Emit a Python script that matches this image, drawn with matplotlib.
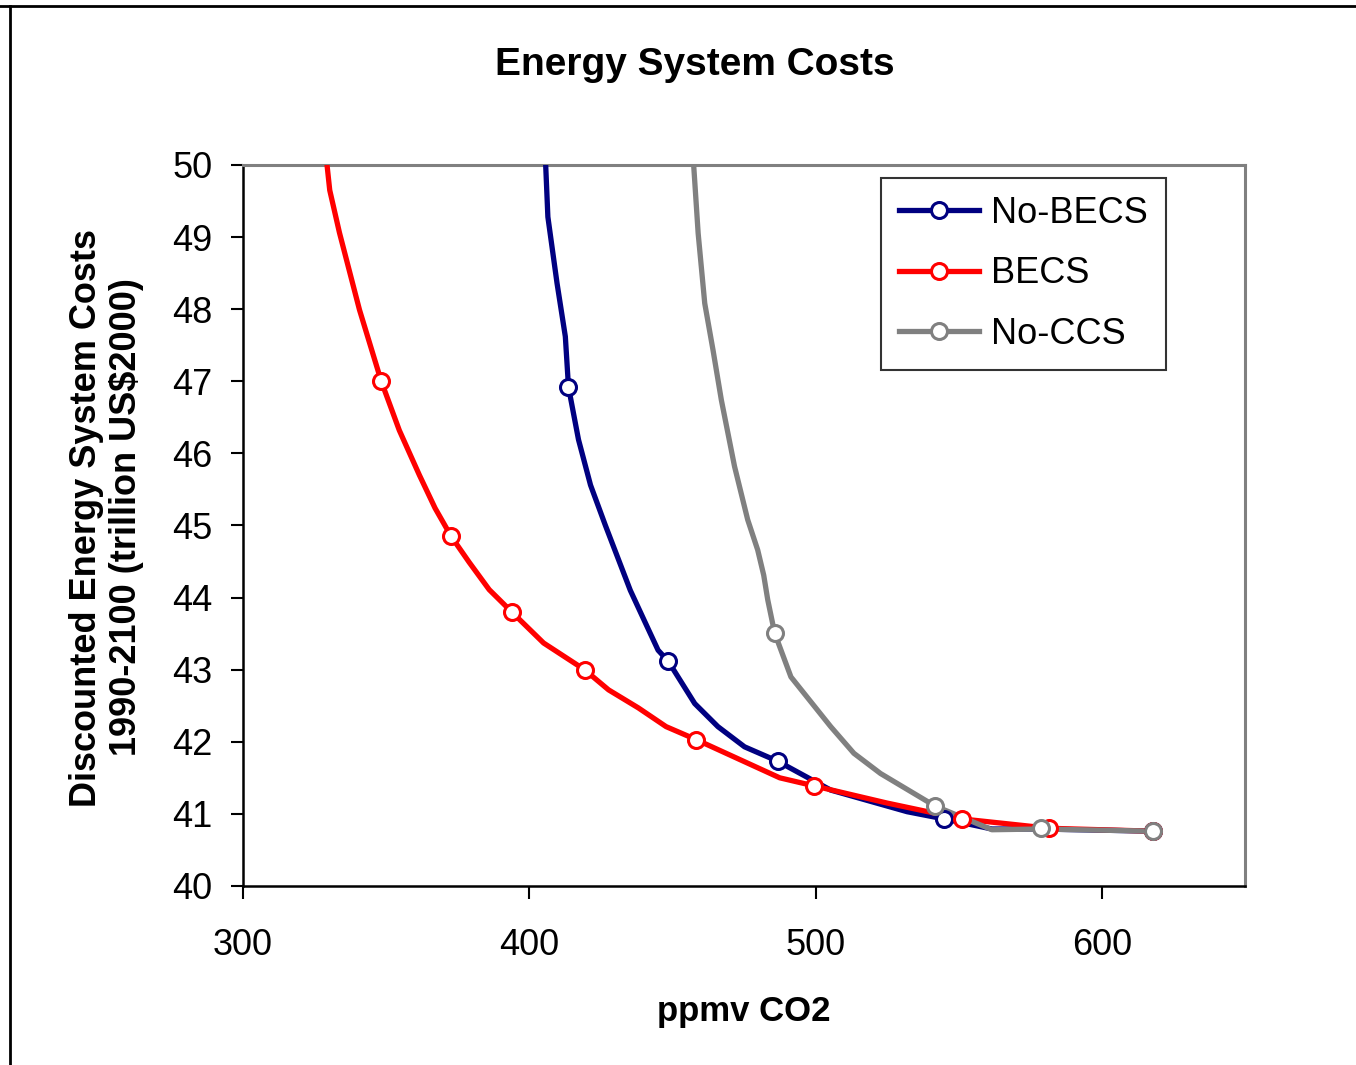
import matplotlib
matplotlib.use("Agg")
import matplotlib.pyplot as plt
from matplotlib.lines import Line2D

plt.rcParams['font.family'] = ['Liberation Sans', 'DejaVu Sans']

# ---- data (ppmv CO2, trillion US$2000) ----
nobecs_x = [405.2, 406.5, 409.7, 412.6, 413.7, 417.2, 421.4, 426.6, 435.3, 440.9, 445.0, 448.5,
            457.8, 465.9, 475.2, 486.8, 505.3, 532.0, 544.9, 561.6, 578.6, 617.9]
nobecs_y = [50.5, 49.28, 48.36, 47.62, 46.92, 46.19, 45.56, 45.0, 44.1, 43.62, 43.27, 43.12,
            42.53, 42.21, 41.93, 41.73, 41.33, 41.03, 40.93, 40.79, 40.79, 40.76]
nobecs_mx = [413.7, 448.5, 486.8, 544.9, 617.9]
nobecs_my = [46.92, 43.12, 41.73, 40.93, 40.76]

becs_x = [328.0, 330.3, 333.7, 340.7, 348.3, 354.6, 361.6, 367.1, 372.7, 379.0, 386.0, 393.9,
          405.0, 419.3, 427.7, 438.1, 447.8, 458.3, 487.5, 499.3, 525.0, 551.1, 581.7, 617.9]
becs_y = [50.5, 49.65, 49.06, 47.99, 47.0, 46.32, 45.70, 45.24, 44.85, 44.49, 44.11, 43.8,
          43.37, 43.0, 42.72, 42.47, 42.21, 42.03, 41.5, 41.39, 41.15, 40.93, 40.8, 40.76]
becs_mx = [348.3, 372.7, 393.9, 419.3, 458.3, 499.3, 551.1, 581.7, 617.9]
becs_my = [47.0, 44.85, 43.8, 43.0, 42.03, 41.39, 40.93, 40.8, 40.76]

noccs_x = [456.6, 459.0, 461.3, 464.2, 467.1, 471.7, 476.3, 479.8, 481.9, 483.3, 485.7, 491.4,
           505.3, 513.4, 522.7, 541.7, 561.6, 578.6, 617.9]
noccs_y = [50.5, 49.05, 48.08, 47.43, 46.74, 45.82, 45.08, 44.66, 44.31, 43.97, 43.51, 42.90,
           42.21, 41.84, 41.56, 41.11, 40.78, 40.79, 40.76]
noccs_mx = [485.7, 541.7, 578.6, 617.9]
noccs_my = [43.51, 41.11, 40.8, 40.76]

labels = ["No-BECS", "BECS", "No-CCS"]
colors = ["#000080", "#FF0000", "#808080"]
x_ticks = [300, 400, 500, 600]
y_ticks = list(range(40, 51))

fig = plt.figure(figsize=(13.56, 10.65), dpi=100)
ax = fig.add_axes([0.1792, 0.1681, 0.7389, 0.677])

LW = 3.8
series = [(nobecs_x, nobecs_y, nobecs_mx, nobecs_my),
          (becs_x, becs_y, becs_mx, becs_my),
          (noccs_x, noccs_y, noccs_mx, noccs_my)]
handles = []
for (lx, ly, mx, my), lab, c in zip(series, labels, colors):
    ax.plot(lx, ly, color=c, lw=LW, solid_joinstyle='round', solid_capstyle='butt', zorder=3)
    ax.plot(mx, my, ls='none', marker='o', ms=11.5, mfc='white', mec=c, mew=2.2, zorder=4)
    handles.append(Line2D([], [], color=c, lw=LW, marker='o', ms=11.5, mfc='white', mec=c, mew=2.2))

ax.set_xlim(300, 650)
ax.set_ylim(40, 50)
ax.set_xticks(x_ticks)
ax.set_yticks(y_ticks)
ax.tick_params(axis='both', direction='out', length=9, width=1.5, labelsize=26, color='black')
ax.tick_params(axis='y', pad=13)
ax.tick_params(axis='x', pad=21)

for s in ['left', 'bottom']:
    ax.spines[s].set_color('black')
    ax.spines[s].set_linewidth(1.8)
for s in ['top', 'right']:
    ax.spines[s].set_color('#808080')
    ax.spines[s].set_linewidth(2.2)

ax.set_xlabel("ppmv CO2", fontsize=25, fontweight='bold', labelpad=23)
ax.set_ylabel("Discounted Energy System Costs\n1990-2100 (trillion US$2000)", fontsize=26,
              fontweight='bold', linespacing=1.2)
ax.yaxis.set_label_coords(-0.0985, 0.511)
fig.text(0.5125, 0.939, "Energy System Costs", ha='center', va='center', fontsize=28, fontweight='bold')

leg = ax.legend(handles, labels, loc='upper right', bbox_to_anchor=(0.9212, 0.982),
                fontsize=26, frameon=True, fancybox=False, handlelength=2.2,
                handletextpad=0.35, labelspacing=0.7, borderpad=0.5, borderaxespad=0)
leg.get_frame().set_edgecolor('black')
leg.get_frame().set_linewidth(1.5)

# outer frame lines (top and left)
fig.add_artist(Line2D([0, 1], [1 - 5.5 / 1065, 1 - 5.5 / 1065], transform=fig.transFigure,
                      color='black', lw=2))
fig.add_artist(Line2D([10 / 1356, 10 / 1356], [0, 1 - 5.5 / 1065], transform=fig.transFigure,
                      color='black', lw=2))

fig.savefig("out.png", dpi=100)
